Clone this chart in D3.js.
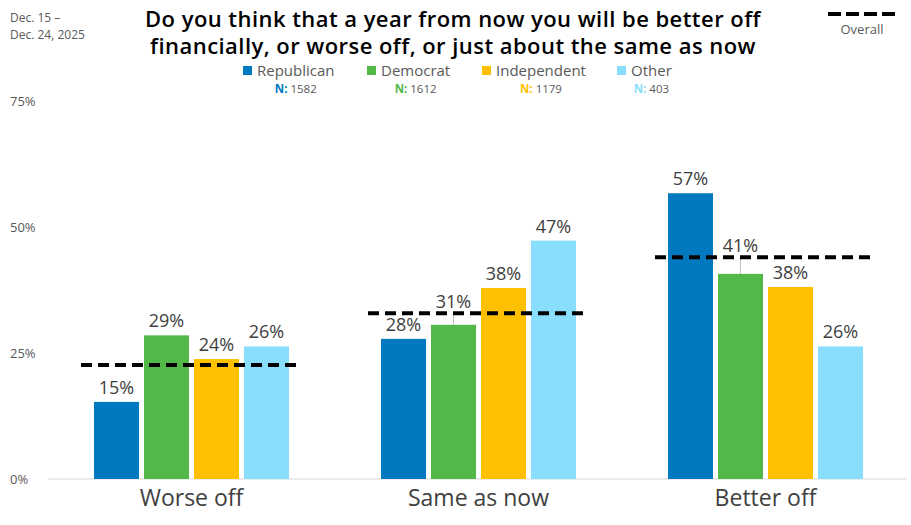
<!DOCTYPE html>
<html lang="en">
<head>
    <meta charset="UTF-8">
    <title>Better or worse off a year from now</title>
    <script src="https://cdn.jsdelivr.net/npm/d3@7"></script>
    <style>
        body { margin: 0; background: #fff; }
        svg { font-family: "Open Sans", "DejaVu Sans", sans-serif; }
        .title { fill: #000; font-size: 22px; font-weight: 600; letter-spacing: 0.45px; }
        .tick-label { fill: #595959; font-size: 13px; }
        .cat-label { fill: #404040; font-size: 23px; }
        .val-label { fill: #404040; font-size: 18px; }
        .overall { fill: none; stroke: #000; stroke-width: 4px; stroke-dasharray: 11 6; }
    </style>
</head>
<body>
    <div id="chart"></div>
    <script>
        // data
        const categories = ["Worse off", "Same as now", "Better off"];
        const groups = ["Republican", "Democrat", "Independent", "Other"];
        const groupN = [1582, 1612, 1179, 403];
        const colors = ["#0079C1", "#52B848", "#FFC000", "#89DDFD"];

        const republican = [15.3, 27.8, 56.7];
        const democrat = [28.5, 30.6, 40.7];
        const independent = [23.8, 37.9, 38.1];
        const other = [26.3, 47.3, 26.3];
        const overall = [22.6, 32.9, 44.0];
        const series = [republican, democrat, independent, other];

        const yTicks = [0, 25, 50, 75];

        const W = 911, H = 525;
        const margin = { top: 101, right: 2, bottom: 46, left: 48 };
        const width = W - margin.left - margin.right;
        const height = H - margin.top - margin.bottom;

        const svg = d3.select("#chart").append("svg")
            .attr("width", W)
            .attr("height", H);

        // header
        svg.append("text").attr("x", 10).attr("y", 22)
            .attr("fill", "#595959").style("font-size", "12px").text("Dec. 15 \u2013");
        svg.append("text").attr("x", 10).attr("y", 38.5)
            .attr("fill", "#595959").style("font-size", "12px").text("Dec. 24, 2025");

        svg.append("text").attr("class", "title").attr("text-anchor", "middle")
            .attr("x", 453).attr("y", 27)
            .text("Do you think that a year from now you will be better off");
        svg.append("text").attr("class", "title").attr("text-anchor", "middle")
            .attr("x", 453).attr("y", 54)
            .text("financially, or worse off, or just about the same as now");

        // overall legend (top right)
        svg.append("line").attr("class", "overall")
            .attr("x1", 828).attr("x2", 897).attr("y1", 14).attr("y2", 14)
            .style("stroke-dasharray", "13 5");
        svg.append("text").attr("x", 862).attr("y", 34).attr("text-anchor", "middle")
            .attr("fill", "#595959").style("font-size", "13px").text("Overall");

        // group legend
        const legendX = [243, 367, 482, 617];
        const leg = svg.append("g").selectAll("g").data(groups).join("g")
            .attr("transform", (d, i) => "translate(" + legendX[i] + ",0)");
        leg.append("rect").attr("x", 0).attr("y", 66).attr("width", 9).attr("height", 9)
            .attr("fill", (d, i) => colors[i]);
        leg.append("text").attr("x", 14).attr("y", 76)
            .attr("fill", "#595959").style("font-size", "15px").text(d => d);
        leg.each(function(d, i) {
            const g = d3.select(this);
            const tw = g.select("text").node().getComputedTextLength();
            const t = g.append("text").attr("x", 14 + tw / 2).attr("y", 92.5)
                .attr("text-anchor", "middle").style("font-size", "11.5px");
            t.append("tspan").attr("fill", colors[i]).style("font-weight", 700).text("N: ");
            t.append("tspan").attr("fill", "#595959").text(groupN[i]);
        });

        const chart = svg.append("g")
            .attr("transform", "translate(" + margin.left + "," + margin.top + ")");

        const x0 = d3.scaleBand().domain(categories).range([0, width]);
        const x1 = d3.scaleBand().domain(groups)
            .range([x0.bandwidth() / 2 - 97.5, x0.bandwidth() / 2 + 97.5])
            .paddingInner(0.1);
        const y = d3.scaleLinear().domain([0, 75]).range([height, 0]);

        // y tick labels
        svg.append("g").selectAll("text").data(yTicks).join("text")
            .attr("class", "tick-label")
            .attr("x", 10)
            .attr("y", d => margin.top + y(d) + 5)
            .text(d => d + "%");

        // baseline
        chart.append("line")
            .attr("x1", 0).attr("x2", width - 2)
            .attr("y1", height).attr("y2", height)
            .attr("stroke", "#d9d9d9").attr("stroke-width", 1);

        const cat = chart.selectAll(".cat").data(categories).join("g")
            .attr("class", "cat")
            .attr("transform", d => "translate(" + x0(d) + ",0)");

        cat.each(function(c, ci) {
            const g = d3.select(this);
            const ov = y(overall[ci]);
            const vals = groups.map((grp, gi) => ({ grp: grp, gi: gi, v: series[gi][ci] }));

            g.selectAll("rect").data(vals).join("rect")
                .attr("x", d => x1(d.grp))
                .attr("width", x1.bandwidth())
                .attr("y", d => y(d.v))
                .attr("height", d => height - y(d.v))
                .attr("fill", d => colors[d.gi]);

            vals.forEach(d => {
                const cx = x1(d.grp) + x1.bandwidth() / 2;
                const top = y(d.v);
                let base = top - 8;
                // push the label above the overall line when they collide
                if (base > ov - 3 && base - 14 < ov + 3) {
                    g.append("line")
                        .attr("x1", cx).attr("x2", cx)
                        .attr("y1", top).attr("y2", ov)
                        .attr("stroke", "#bfbfbf").attr("stroke-width", 1);
                    base = ov - 5;
                }
                g.append("text").attr("class", "val-label")
                    .attr("x", cx).attr("y", base)
                    .attr("text-anchor", "middle")
                    .text(Math.round(d.v) + "%");
            });

            g.append("line").attr("class", "overall")
                .attr("x1", x1(groups[0]) - 13)
                .attr("x2", x1(groups[3]) + x1.bandwidth() + 11)
                .attr("y1", ov).attr("y2", ov);

            g.append("text").attr("class", "cat-label")
                .attr("x", x0.bandwidth() / 2).attr("y", height + 27)
                .attr("text-anchor", "middle")
                .text(c);
        });
    </script>
</body>
</html>
